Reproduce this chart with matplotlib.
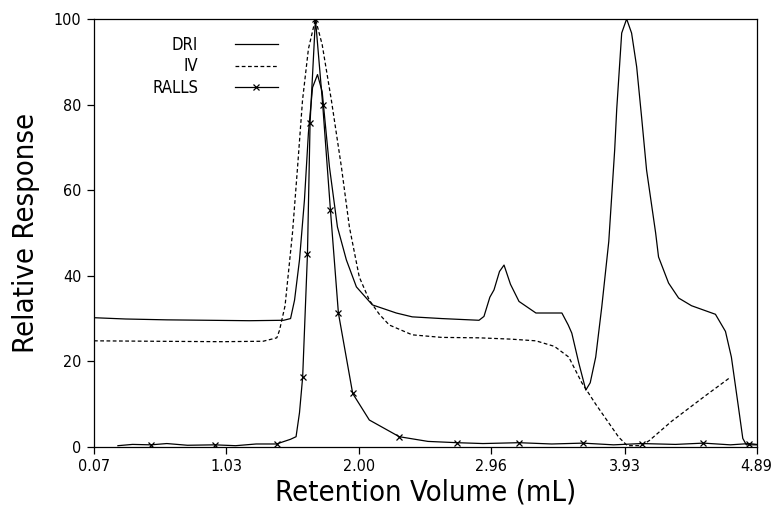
"""Relative detector response vs retention volume (DRI, IV, RALLS traces)."""

import matplotlib

matplotlib.use("Agg")

import matplotlib.pyplot as plt

plt.rcParams["font.family"] = ["DejaVu Sans"]
plt.rcParams["font.stretch"] = "condensed"

# DRI trace (solid)
dri_x = [0.07, 0.30, 0.60, 0.90, 1.20, 1.45, 1.50, 1.529, 1.565, 1.601, 1.630,
         1.660, 1.696, 1.730, 1.783, 1.841, 1.906, 1.979, 2.095, 2.269, 2.385,
         2.600, 2.871, 2.907, 2.950, 2.980, 3.020, 3.053, 3.100, 3.162, 3.285,
         3.474, 3.520, 3.546, 3.597, 3.648, 3.680, 3.720, 3.764, 3.815, 3.858,
         3.873, 3.909, 3.945, 3.981, 4.018, 4.054, 4.090, 4.156, 4.177, 4.250,
         4.323, 4.417, 4.591, 4.664, 4.707, 4.758, 4.790, 4.816, 4.890]
dri_y = [30.2, 29.9, 29.7, 29.6, 29.5, 29.6, 30.0, 34.3, 43.7, 57.7, 73.4,
         84.0, 87.0, 83.0, 65.4, 51.4, 43.7, 37.4, 33.2, 31.3, 30.4,
         30.0, 29.6, 30.5, 35.0, 36.7, 41.0, 42.5, 38.0, 34.0, 31.3,
         31.3, 28.5, 26.6, 19.6, 13.3, 15.0, 21.0, 32.7, 48.0, 69.4,
         79.0, 96.7, 100.0, 96.7, 88.8, 77.0, 64.7, 50.0, 44.4, 38.3,
         34.8, 33.0, 31.0, 27.0, 21.0, 9.4, 2.0, 0.5, 0.5]

# IV trace (dashed)
iv_x = [0.07, 0.50, 1.00, 1.30, 1.40, 1.420, 1.460, 1.514, 1.551, 1.587,
        1.630, 1.681, 1.730, 1.797, 1.870, 1.928, 2.000, 2.073, 2.146, 2.218,
        2.385, 2.600, 2.871, 3.100, 3.285, 3.420, 3.524, 3.619, 3.720, 3.887,
        3.950, 4.050, 4.110, 4.272, 4.519, 4.671, 4.700]
iv_y = [24.8, 24.7, 24.6, 24.7, 25.5, 27.3, 33.0, 50.0, 65.4, 81.0,
        93.0, 100.0, 94.0, 81.0, 65.4, 51.4, 39.7, 34.3, 31.0, 28.5,
        26.2, 25.6, 25.5, 25.2, 24.8, 23.5, 21.0, 15.0, 10.0, 2.3,
        0.3, 0.3, 1.5, 6.0, 12.0, 15.6, 16.3]

# RALLS trace (solid with x markers)
ralls_x = [0.244, 0.350, 0.484, 0.600, 0.750, 0.948, 1.100, 1.250, 1.398,
           1.500, 1.540, 1.565, 1.588, 1.623, 1.642, 1.681, 1.734, 1.790,
           1.848, 1.952, 2.073, 2.291, 2.500, 2.712, 2.900, 3.162, 3.400,
           3.626, 3.850, 4.054, 4.300, 4.504, 4.700, 4.838, 4.890]
ralls_y = [0.3, 0.6, 0.5, 0.8, 0.4, 0.5, 0.3, 0.7, 0.7,
           1.8, 2.4, 8.0, 16.3, 45.1, 75.8, 100.0, 79.9, 55.4,
           31.3, 12.5, 6.3, 2.4, 1.3, 1.0, 0.8, 1.0, 0.7,
           0.9, 0.5, 0.8, 0.6, 0.9, 0.5, 0.8, 0.6]
ralls_marked = [2, 5, 8, 12, 13, 14, 15, 16, 17, 18, 19, 21, 23, 25, 27, 29,
                31, 33]

x_ticks = [0.07, 1.03, 2.00, 2.96, 3.93, 4.89]
x_tick_labels = ["0.07", "1.03", "2.00", "2.96", "3.93", "4.89"]
y_ticks = [0, 20, 40, 60, 80, 100]

fig = plt.figure(figsize=(7.73, 5.12), dpi=100)
ax = fig.add_axes([0.1216, 0.127, 0.8571, 0.836])

ax.plot(dri_x, dri_y, color="black", linewidth=0.9, label="DRI")
ax.plot(iv_x, iv_y, color="black", linewidth=0.9, linestyle=(0, (3, 2)),
        label="IV")
ax.plot(ralls_x, ralls_y, color="black", linewidth=0.9, marker="x",
        markersize=5, markeredgewidth=0.9, markevery=ralls_marked,
        label="RALLS")

ax.set_xlim(0.07, 4.89)
ax.set_ylim(0, 100)
ax.set_xticks(x_ticks)
ax.set_xticklabels(x_tick_labels)
ax.set_yticks(y_ticks)
ax.tick_params(direction="out", length=5, width=0.9, labelsize=11.5, pad=4)
for spine in ax.spines.values():
    spine.set_linewidth(0.9)

ax.set_xlabel("Retention Volume (mL)", fontsize=21, labelpad=3)
ax.set_ylabel("Relative Response", fontsize=21, labelpad=10)

leg = ax.legend(loc="upper left", bbox_to_anchor=(0.065, 0.995), frameon=False,
                markerfirst=False, handlelength=2.6, numpoints=1,
                fontsize=12, labelspacing=0.2, handletextpad=2.2)

fig.savefig("out.png", dpi=100)
plt.close(fig)
